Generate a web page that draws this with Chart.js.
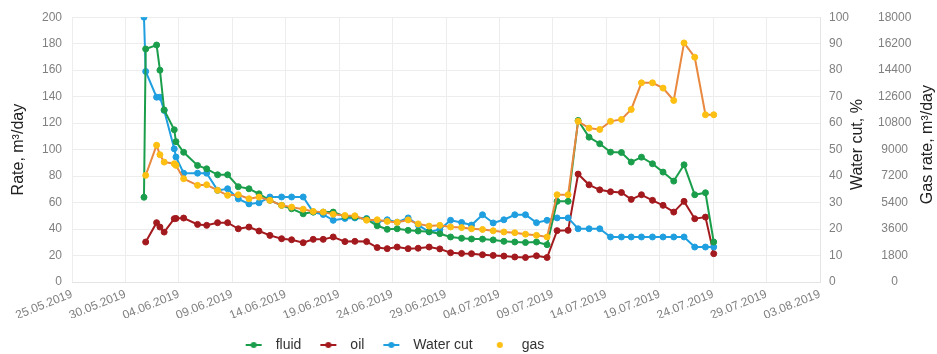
<!DOCTYPE html>
<html>
<head>
<meta charset="utf-8">
<title>Well rates</title>
<script src="https://cdn.jsdelivr.net/npm/chart.js@4.4.1/dist/chart.umd.min.js"></script>
<style>
  html, body { margin: 0; padding: 0; background: #fff; }
  #wrap { width: 937px; height: 354px; }
</style>
</head>
<body>
<div id="wrap"><canvas id="wellChart" width="937" height="354"></canvas></div>
<script>
// Measurement times (UTC)
const times = [
    '2019-05-31 17:40', '2019-05-31 21:30', '2019-06-01 22:00', '2019-06-02 05:30', '2019-06-02 15:00',
    '2019-06-03 13:40', '2019-06-03 17:30', '2019-06-04 10:45', '2019-06-05 18:00', '2019-06-06 14:30',
    '2019-06-07 15:00', '2019-06-08 13:30', '2019-06-09 13:30', '2019-06-10 13:30', '2019-06-11 12:00',
    '2019-06-12 12:30', '2019-06-13 14:45', '2019-06-14 13:15', '2019-06-15 15:15', '2019-06-16 13:45',
    '2019-06-17 12:15', '2019-06-18 10:40', '2019-06-19 13:00', '2019-06-20 11:20', '2019-06-21 13:40',
    '2019-06-22 13:30', '2019-06-23 12:00', '2019-06-24 10:20', '2019-06-25 11:00', '2019-06-26 09:30',
    '2019-06-27 10:10', '2019-06-28 10:10', '2019-06-29 10:15', '2019-06-30 11:00', '2019-07-01 09:20',
    '2019-07-02 10:00', '2019-07-03 10:00', '2019-07-04 10:00', '2019-07-05 10:30', '2019-07-06 10:30',
    '2019-07-07 11:15', '2019-07-08 11:00', '2019-07-09 09:30', '2019-07-10 10:15', '2019-07-11 08:45',
    '2019-07-12 09:20', '2019-07-13 09:20', '2019-07-14 09:30', '2019-07-15 10:00', '2019-07-16 08:00',
    '2019-07-17 07:00', '2019-07-18 07:45', '2019-07-19 07:30', '2019-07-20 07:30', '2019-07-21 06:40',
    '2019-07-22 06:40', '2019-07-23 06:45', '2019-07-24 01:20'
];

// m3/day
const fluid = [
    64, 176, 179, 160, 130, 115, 106, 98, 88, 85.5,
    81, 81, 72, 70.4, 66.6, 61.7, 57.9, 55.3, 51.5, 52.8,
    52.8, 52.8, 49.5, 49, 47.5, 42.5, 39.8, 40.2, 39, 38.5,
    38, 36.5, 34, 33, 32.5, 32.4, 31.8, 30.7, 30.2, 29.8,
    30.2, 28.2, 60.9, 60.9, 122, 109.4, 104.4, 98.1, 97.8, 90.6,
    94.3, 89.3, 83, 76.2, 88.5, 65.9, 67.4, 30.2
];
const oil = [
    null, 30.2, 44.8, 41.5, 37.7, 47.8, 48, 48.3, 43.5, 42.8,
    44.8, 44.8, 40.2, 41.5, 38.5, 35.2, 32.7, 31.9, 29.7, 32.2,
    32.2, 34, 30.5, 30.7, 30.5, 26, 25.2, 26.4, 25.2, 25.5,
    26.4, 25, 22.1, 21.6, 21.4, 20.6, 20.1, 19.6, 18.9, 18.5,
    19.8, 18.5, 38.8, 39, 81.5, 73.4, 69.6, 68.2, 67.6, 62.4,
    65.9, 61.7, 57.9, 52.8, 60.9, 47.8, 49, 21.4
];
// %
const waterCut = [
    100, 79.5, 69.8, 69.8, 64.8, 50.3, 47.2, 41.1, 41.1, 41.1,
    34.6, 35.2, 31.4, 29.5, 29.9, 32.1, 32.1, 32.1, 32.1, 26.4,
    25.5, 23.3, 24, 24.2, 24, 22.6, 23.5, 22.6, 24.2, 21.5,
    18.9, 19.8, 23.3, 22.5, 21.5, 25.4, 22.3, 23.5, 25.4, 25.4,
    22.4, 23.3, 24.2, 24.2, 20.1, 20.1, 20.1, 17, 17, 17,
    17, 17, 17, 17, 17, 13.2, 13.2, 13.2
];
// m3/day
const gas = [
    null, 7250, 9300, 8650, 8150, 8040, 7930, 7020, 6570, 6610,
    6230, 5890, 5930, 5660, 5770, 5550, 5210, 5090, 4950, 4800,
    4750, 4600, 4520, 4500, 4200, 4230, 4120, 4060, 4220, 3950,
    3800, 3850, 3740, 3700, 3620, 3570, 3480, 3400, 3350, 3250,
    3170, 3060, 5930, 5930, 10920, 10460, 10370, 10920, 11050, 11730,
    13540, 13540, 13180, 12340, 16250, 15280, 11370, 11370
];

const tickDates = [
    '25.05.2019', '30.05.2019', '04.06.2019', '09.06.2019', '14.06.2019',
    '19.06.2019', '24.06.2019', '29.06.2019', '04.07.2019', '09.07.2019',
    '14.07.2019', '19.07.2019', '24.07.2019', '29.07.2019', '03.08.2019'
];

const FONT = '"Liberation Sans", Arial, sans-serif';
const START = Date.UTC(2019, 4, 25);

// days since 25.05.2019
function dayOffset(s) {
    const [d, t] = s.split(' ');
    const [y, m, dd] = d.split('-').map(Number);
    const [hh, mm] = t.split(':').map(Number);
    return (Date.UTC(y, m - 1, dd, hh, mm) - START) / 864e5;
}
const xDays = times.map(dayOffset);
const toPoints = arr => arr.map((v, i) => ({ x: xDays[i], y: v }));

const colors = {
    fluid: '#1b9e4b',
    oil: '#a31a1e',
    water: '#1f9fdf',
    gasLine: '#e9883f',
    gasDot: '#fdbf12'
};

// small line+dot images for the legend
function legendMarker(lineColor, dotColor, withLine) {
    const c = document.createElement('canvas');
    c.width = 18; c.height = 10;
    const g = c.getContext('2d');
    if (withLine) {
        g.strokeStyle = lineColor; g.lineWidth = 2;
        g.beginPath(); g.moveTo(1, 5); g.lineTo(17, 5); g.stroke();
    }
    g.fillStyle = dotColor;
    g.beginPath(); g.arc(9, 5, 3, 0, Math.PI * 2); g.fill();
    return c;
}
const markers = [
    legendMarker(colors.fluid, colors.fluid, true),
    legendMarker(colors.oil, colors.oil, true),
    legendMarker(colors.water, colors.water, true),
    legendMarker(colors.gasLine, colors.gasDot, false)
];

// right-hand axis titles read bottom-to-top
const sideTitles = {
    id: 'sideTitles',
    afterDraw(chart) {
        const c = chart.ctx;
        [['wc', 10], ['gas', 9]].forEach(([id, inset]) => {
            const s = chart.scales[id];
            c.save();
            c.translate(s.right - inset, (s.top + s.bottom) / 2 - 5);
            c.rotate(-Math.PI / 2);
            c.textAlign = 'center';
            c.textBaseline = 'middle';
            c.font = '16px ' + FONT;
            c.fillStyle = '#222';
            c.fillText(s.options.title.text, 0, 0);
            c.restore();
        });
    }
};

// nudge legend a bit left and down
const legendShift = {
    id: 'legendShift',
    afterLayout(chart) {
        const l = chart.legend;
        l.left -= 77; l.right -= 77;
        l.top += 8; l.bottom += 8;
    }
};

function lineSet(label, data, color, axis, order) {
    return {
        label, data: toPoints(data), yAxisID: axis, order,
        borderColor: color, backgroundColor: color,
        pointBackgroundColor: color, pointBorderColor: color,
        borderWidth: 2, pointRadius: 3, pointBorderWidth: 1,
        tension: 0
    };
}

const gasSet = lineSet('gas', gas, colors.gasLine, 'gas', 0);
gasSet.pointBackgroundColor = colors.gasDot;
gasSet.pointBorderColor = colors.gasDot;

const tickFont = { family: FONT, size: 12 };
const tickColor = '#808080';
const gridColor = '#ededed';

new Chart(document.getElementById('wellChart').getContext('2d'), {
    type: 'line',
    data: {
        datasets: [
            lineSet('fluid', fluid, colors.fluid, 'y', 1),
            lineSet('oil', oil, colors.oil, 'y', 3),
            lineSet('Water cut', waterCut, colors.water, 'wc', 2),
            gasSet
        ]
    },
    options: {
        responsive: false,
        animation: false,
        layout: { padding: { top: 15, left: 0, right: 0, bottom: 0 } },
        plugins: {
            tooltip: { enabled: false },
            legend: {
                position: 'bottom',
                labels: {
                    usePointStyle: true,
                    pointStyleWidth: 30,
                    padding: 12,
                    color: '#333',
                    font: { family: FONT, size: 14 },
                    sort: (a, b) => a.datasetIndex - b.datasetIndex,
                    generateLabels(chart) {
                        const items = Chart.defaults.plugins.legend.labels.generateLabels(chart);
                        items.forEach(it => { it.pointStyle = markers[it.datasetIndex]; });
                        return items;
                    }
                }
            }
        },
        scales: {
            x: {
                type: 'linear',
                min: 0,
                max: 70,
                afterFit: s => { s.height = 36; },
                grid: { color: gridColor, drawTicks: false },
                border: { color: '#e4e4e4' },
                ticks: {
                    stepSize: 5,
                    autoSkip: false,
                    minRotation: 22,
                    maxRotation: 22,
                    padding: 5,
                    color: tickColor,
                    font: tickFont,
                    callback: v => tickDates[Math.round(v / 5)]
                }
            },
            y: {
                position: 'left',
                min: 0,
                max: 200,
                afterFit: s => { s.width = 72; },
                grid: { color: gridColor, drawTicks: false },
                border: { display: false },
                ticks: { stepSize: 20, padding: 10, color: tickColor, font: tickFont },
                title: {
                    display: true,
                    text: 'Rate, m³/day',
                    color: '#222',
                    font: { family: FONT, size: 16 },
                    padding: { top: 9, bottom: 0 }
                }
            },
            wc: {
                position: 'right',
                min: 0,
                max: 100,
                afterFit: s => { s.width = 48; },
                grid: { display: false, drawTicks: false },
                border: { color: '#e4e4e4' },
                ticks: { stepSize: 10, padding: 9, color: tickColor, font: tickFont },
                title: { display: false, text: 'Water cut, %' }
            },
            gas: {
                position: 'right',
                min: 0,
                max: 18000,
                afterFit: s => { s.width = 69; },
                grid: { display: false, drawTicks: false },
                border: { display: false },
                ticks: {
                    stepSize: 1800, padding: 10, crossAlign: 'center',
                    color: tickColor, font: tickFont,
                    callback: v => String(v)
                },
                title: { display: false, text: 'Gas rate, m³/day' }
            }
        }
    },
    plugins: [sideTitles, legendShift]
});
</script>
</body>
</html>
